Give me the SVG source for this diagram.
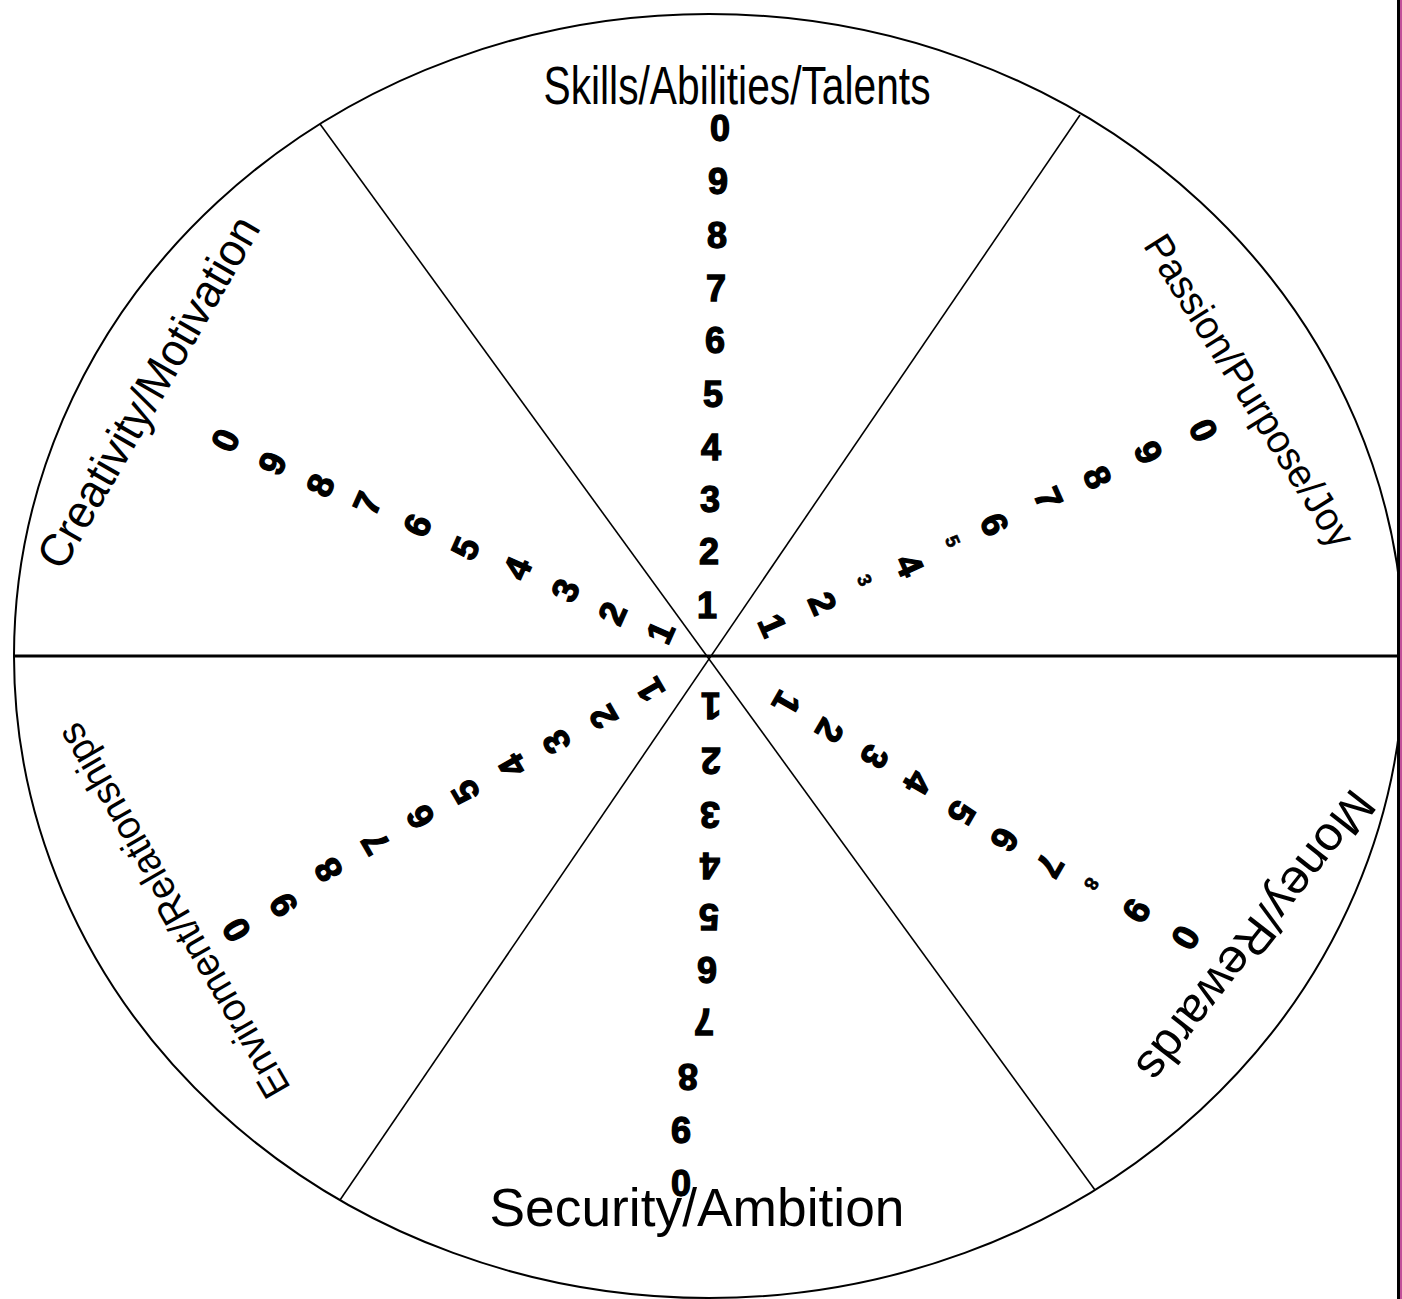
<svg xmlns="http://www.w3.org/2000/svg" width="1402" height="1299" viewBox="0 0 1402 1299">
<style>
.lbl{font-family:"Liberation Sans",Arial,sans-serif;fill:#000}
.d{font-family:"Liberation Sans",Arial,sans-serif;font-weight:bold;font-size:36px;text-anchor:middle;fill:#000;stroke:#000;stroke-width:1.3}
.ds{font-family:"Liberation Sans",Arial,sans-serif;font-weight:bold;font-size:19px;text-anchor:middle;fill:#000;stroke:#000;stroke-width:0.6}
.sp{stroke:#000;stroke-width:1.6;fill:none}
</style>
<rect width="1402" height="1299" fill="#fff"/>
<g id="wheel">
<ellipse cx="709" cy="656" rx="695" ry="642" fill="none" stroke="#000" stroke-width="2"/>
</g>
<g id="connectors">
<line class="sp" x1="320" y1="124" x2="1095" y2="1190"/>
<line class="sp" x1="1080" y1="115" x2="340" y2="1200"/>
<line x1="14" y1="656" x2="1398" y2="656" stroke="#000" stroke-width="3"/>
</g>
<g id="skills">
<text class="lbl" x="737" y="104" font-size="54" text-anchor="middle" textLength="387" lengthAdjust="spacingAndGlyphs">Skills/Abilities/Talents</text>
<text class="d" x="720" y="141">0</text>
<text class="d" x="718" y="194">9</text>
<text class="d" x="717" y="248">8</text>
<text class="d" x="716" y="301">7</text>
<text class="d" x="715" y="353">6</text>
<text class="d" x="713" y="407">5</text>
<text class="d" x="711" y="460">4</text>
<text class="d" x="710" y="512">3</text>
<text class="d" x="709" y="564">2</text>
<text class="d" x="707" y="618">1</text>
</g>
<g id="passion">
<text class="lbl" font-size="40" text-anchor="middle" textLength="360" lengthAdjust="spacingAndGlyphs" transform="translate(1238,398) rotate(58)">Passion/Purpose/Joy</text>
<g transform="translate(773,625) rotate(66)"><text class="d" y="13">1</text></g>
<g transform="translate(823,603) rotate(66)"><text class="d" y="13">2</text></g>
<g transform="translate(865,580) rotate(66)"><text class="ds" y="7">3</text></g>
<g transform="translate(910,565) rotate(66)"><text class="d" y="13">4</text></g>
<g transform="translate(953,541) rotate(66)"><text class="ds" y="7">5</text></g>
<g transform="translate(995,524) rotate(66)"><text class="d" y="13">6</text></g>
<g transform="translate(1049,498) rotate(66)"><text class="d" y="13">7</text></g>
<g transform="translate(1098,477) rotate(66)"><text class="d" y="13">8</text></g>
<g transform="translate(1149,452) rotate(66)"><text class="d" y="13">9</text></g>
<g transform="translate(1204,430) rotate(66)"><text class="d" y="13">0</text></g>
</g>
<g id="money">
<text class="lbl" font-size="48" text-anchor="middle" textLength="355" lengthAdjust="spacingAndGlyphs" transform="translate(1243,926) rotate(128)">Money/Rewards</text>
<g transform="translate(787,703) rotate(120)"><text class="d" y="13">1</text></g>
<g transform="translate(830,731) rotate(120)"><text class="d" y="13">2</text></g>
<g transform="translate(875,757) rotate(120)"><text class="d" y="13">3</text></g>
<g transform="translate(918,783) rotate(120)"><text class="d" y="13">4</text></g>
<g transform="translate(962,813) rotate(120)"><text class="d" y="13">5</text></g>
<g transform="translate(1005,840) rotate(120)"><text class="d" y="13">6</text></g>
<g transform="translate(1050,866) rotate(120)"><text class="d" y="13">7</text></g>
<g transform="translate(1092,884) rotate(120)"><text class="ds" y="7">8</text></g>
<g transform="translate(1137,911) rotate(120)"><text class="d" y="13">9</text></g>
<g transform="translate(1186,938) rotate(120)"><text class="d" y="13">0</text></g>
</g>
<g id="security">
<g transform="translate(711,706) rotate(180)"><text class="d" y="13">1</text></g>
<g transform="translate(711,761) rotate(180)"><text class="d" y="13">2</text></g>
<g transform="translate(710,815) rotate(180)"><text class="d" y="13">3</text></g>
<g transform="translate(710,866) rotate(180)"><text class="d" y="13">4</text></g>
<g transform="translate(709,917) rotate(180)"><text class="d" y="13">5</text></g>
<g transform="translate(707,970) rotate(180)"><text class="d" y="13">6</text></g>
<g transform="translate(704,1022) rotate(180)"><text class="d" y="13">7</text></g>
<g transform="translate(688,1077) rotate(180)"><text class="d" y="13">8</text></g>
<g transform="translate(681,1130) rotate(180)"><text class="d" y="13">9</text></g>
<text class="d" x="681" y="1196">0</text>
<text class="lbl" x="697" y="1226" font-size="53" text-anchor="middle" textLength="415" lengthAdjust="spacingAndGlyphs">Security/Ambition</text>
</g>
<g id="environment">
<text class="lbl" font-size="40" text-anchor="middle" textLength="425" lengthAdjust="spacingAndGlyphs" transform="translate(185,904) rotate(-120)">Enviroment/Relationships</text>
<g transform="translate(650,690) rotate(-120)"><text class="d" y="13">1</text></g>
<g transform="translate(603,717) rotate(-120)"><text class="d" y="13">2</text></g>
<g transform="translate(556,742) rotate(-120)"><text class="d" y="13">3</text></g>
<g transform="translate(512,766) rotate(-120)"><text class="d" y="13">4</text></g>
<g transform="translate(465,792) rotate(-120)"><text class="d" y="13">5</text></g>
<g transform="translate(420,817) rotate(-120)"><text class="d" y="13">6</text></g>
<g transform="translate(375,843) rotate(-120)"><text class="d" y="13">7</text></g>
<g transform="translate(328,870) rotate(-120)"><text class="d" y="13">8</text></g>
<g transform="translate(283,905) rotate(-120)"><text class="d" y="13">9</text></g>
<g transform="translate(236,930) rotate(-120)"><text class="d" y="13">0</text></g>
</g>
<g id="creativity">
<text class="lbl" font-size="46" text-anchor="middle" textLength="398" lengthAdjust="spacingAndGlyphs" transform="translate(162,400) rotate(-60)">Creativity/Motivation</text>
<g transform="translate(225,440) rotate(-66)"><text class="d" y="13">0</text></g>
<g transform="translate(272,463) rotate(-66)"><text class="d" y="13">9</text></g>
<g transform="translate(320,485) rotate(-66)"><text class="d" y="13">8</text></g>
<g transform="translate(367,503) rotate(-66)"><text class="d" y="13">7</text></g>
<g transform="translate(417,525) rotate(-66)"><text class="d" y="13">6</text></g>
<g transform="translate(465,548) rotate(-66)"><text class="d" y="13">5</text></g>
<g transform="translate(517,568) rotate(-66)"><text class="d" y="13">4</text></g>
<g transform="translate(565,590) rotate(-66)"><text class="d" y="13">3</text></g>
<g transform="translate(612,613) rotate(-66)"><text class="d" y="13">2</text></g>
<g transform="translate(660,632) rotate(-66)"><text class="d" y="13">1</text></g>
</g>
<g id="border">
<rect x="1397" y="0" width="3" height="1299" fill="#000"/>
<rect x="1400" y="0" width="2" height="1299" fill="#c0509a"/>
</g>
</svg>
